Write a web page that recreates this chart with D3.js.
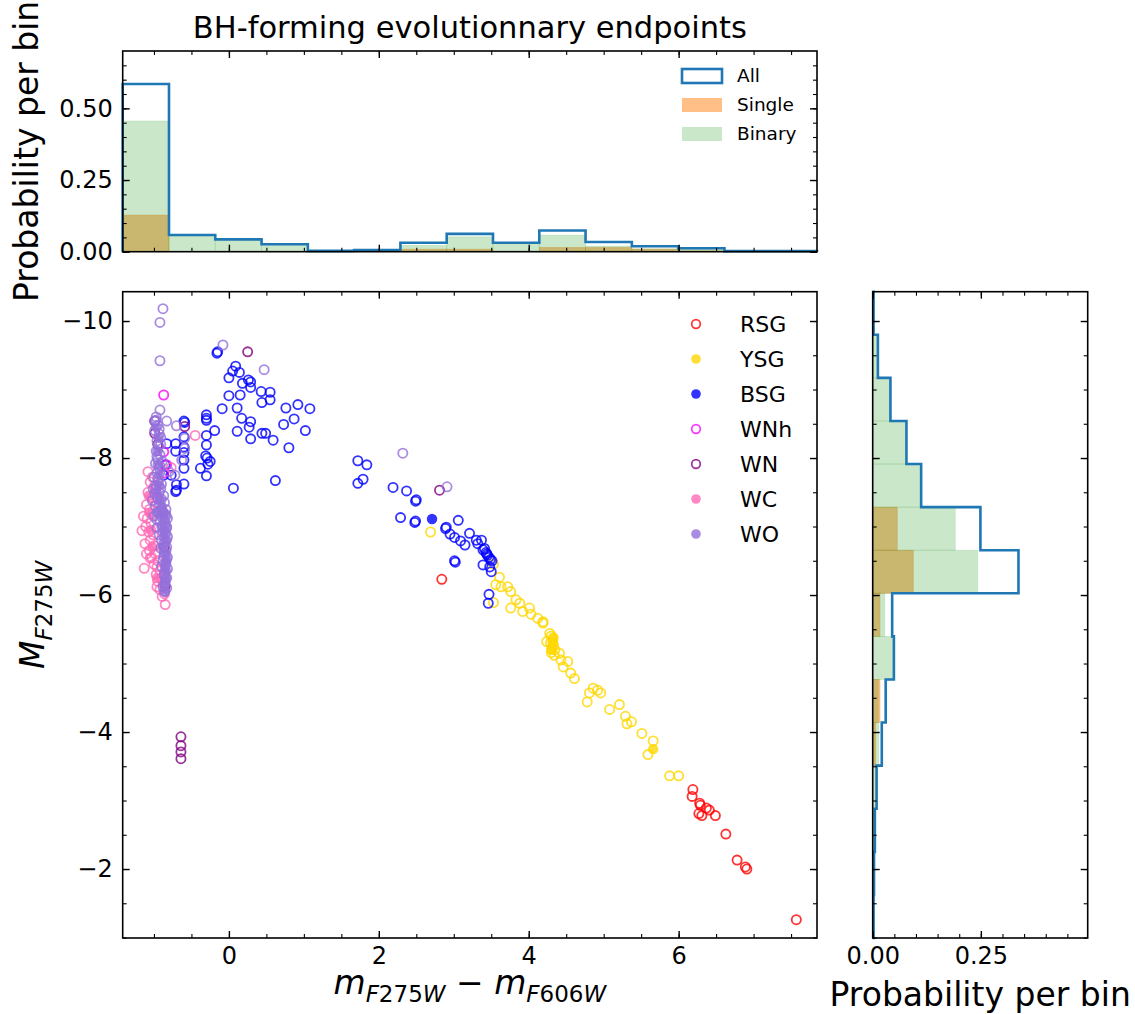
<!DOCTYPE html>
<html>
<head>
<meta charset="utf-8">
<script src="https://cdn.jsdelivr.net/npm/d3@7"></script>
<style>
  body { margin: 0; background: #fff; }
  text { font-family: "DejaVu Sans", sans-serif; }
</style>
</head>
<body>
<script>
// ---- data ----
// scatter points, [colour index, magnitude]
let rsgOpen = [[2.84,-6.23],[6.19,-3.16],[6.18,-3.06],[6.28,-2.96],[6.29,-2.93],[6.37,-2.89],[6.41,-2.86],
  [6.27,-2.81],[6.31,-2.78],[6.49,-2.78],[6.63,-2.51],[6.78,-2.13],[6.89,-2.03],[6.91,-2.00],[7.57,-1.26]]
let ysgOpen = [[2.69,-6.92],[3.53,-6.45],[3.61,-6.26],[3.56,-6.15],[3.63,-6.12],[3.72,-6.12],[3.76,-6.05],
  [3.53,-5.89],[3.83,-5.93],[3.88,-5.88],[3.76,-5.81],[3.92,-5.76],[4.01,-5.81],[4.03,-5.72],[4.12,-5.66],
  [4.19,-5.59],[4.19,-5.61],[4.28,-5.44],[4.30,-5.40],[4.32,-5.35],[4.29,-5.30],[4.33,-5.27],[4.31,-5.22],
  [4.35,-5.20],[4.30,-5.16],[4.34,-5.12],[4.24,-5.32],[4.41,-5.15],[4.43,-5.05],[4.52,-5.03],[4.46,-4.95],
  [4.56,-4.86],[4.61,-4.78],[4.86,-4.64],[4.81,-4.57],[4.92,-4.61],[4.96,-4.57],[4.78,-4.44],[5.08,-4.33],
  [5.21,-4.40],[5.29,-4.23],[5.37,-4.15],[5.31,-4.12],[5.51,-3.98],[5.66,-3.87],[5.59,-3.67],[5.88,-3.36],[6.00,-3.36]]
let ysgFilled = [[5.66,-3.75],[4.32,-5.30],[4.30,-5.20],[4.33,-5.38]]
let bsgOpen = [[-0.15,-9.55],[-0.16,-9.53],[0.09,-9.34],[0.05,-9.27],[0.14,-9.25],[0.00,-9.17],[0.18,-9.09],
  [0.26,-9.14],[0.29,-9.11],[0.29,-9.03],[0.43,-8.97],[0.55,-8.96],[0.55,-8.85],[0.44,-8.81],[0.00,-8.91],
  [0.15,-8.92],[-0.09,-8.72],[0.11,-8.73],[0.17,-8.58],[0.29,-8.53],[0.27,-8.45],[0.11,-8.39],[0.29,-8.28],
  [0.44,-8.36],[0.49,-8.36],[0.59,-8.26],[0.76,-8.73],[0.92,-8.78],[1.08,-8.72],[0.87,-8.57],[0.73,-8.49],
  [1.02,-8.40],[0.80,-8.15],[0.62,-7.67],[0.06,-7.56],
  [-0.30,-8.63],[-0.30,-8.58],[-0.30,-8.55],[-0.19,-8.40],[-0.30,-8.33],[-0.30,-8.19],[-0.31,-8.03],
  [-0.29,-8.00],[-0.25,-7.95],[-0.28,-7.91],[-0.38,-7.85],[-0.30,-7.74],
  [-0.60,-8.54],[-0.60,-8.31],[-0.60,-8.16],[-0.60,-7.97],[-0.60,-7.85],[-0.60,-7.62],
  [-0.83,-8.21],[-0.71,-8.21],[-0.71,-8.10],[-0.60,-8.08],[-0.85,-7.90],[-0.87,-7.75],[-0.77,-7.75],
  [-0.70,-7.61],[-0.70,-7.53],[-0.71,-7.51],[-0.59,-8.52],
  [1.72,-7.96],[1.84,-7.90],[1.72,-7.63],[1.79,-7.69],[2.19,-7.57],[2.37,-7.52],[2.49,-7.37],[2.50,-7.39],
  [2.29,-7.13],[2.48,-7.06],[2.49,-7.08],[3.06,-7.09],[2.89,-6.97],[2.90,-6.99],[2.95,-6.89],[3.01,-6.84],
  [3.09,-6.79],[3.15,-6.73],[3.21,-6.90],[3.30,-6.80],[3.37,-6.80],[3.32,-6.75],[3.39,-6.66],[3.43,-6.62],
  [3.45,-6.58],[3.47,-6.55],[3.49,-6.52],[3.51,-6.50],[3.39,-6.44],[3.48,-6.41],[3.50,-6.34],[3.01,-6.50],
  [3.02,-6.48],[3.47,-6.01],[3.46,-5.88],[3.44,-6.60],[3.41,-6.68]]
let bsgFilled = [[2.71,-7.11]]
let wnhOpen = [[-0.87,-8.92],[-0.87,-8.09],[-0.83,-7.90],[-0.87,-7.78],[-0.98,-7.55],[-0.95,-7.40]]
let wnOpen = [[0.25,-9.55],[2.81,-7.53],[-0.99,-8.54],[-0.99,-8.36],[-0.85,-6.13],[-0.64,-3.93],[-0.64,-3.80],
  [-0.64,-3.71],[-0.64,-3.61],[-0.95,-8.20],[-0.88,-7.20],[-0.86,-6.70],[-0.59,-8.46]]
let wcOpen = [[-0.45,-8.33],[-0.77,-7.86],[-1.16,-6.94],[-1.13,-6.39],[-0.85,-5.86],[-1.05,-6.54],[-0.96,-6.41],
  [-1.05,-7.65],[-1.08,-7.50],[-1.03,-7.42],[-1.10,-7.32],[-1.06,-7.25],[-1.02,-7.18],[-1.09,-7.12],
  [-1.04,-7.05],[-1.11,-7.00],[-1.07,-6.92],[-1.01,-6.88],[-1.05,-6.80],[-1.12,-6.75],[-1.00,-6.72],
  [-1.06,-6.65],[-0.98,-6.60],[-1.03,-6.55],[-0.95,-6.50],[-1.00,-6.45],[-0.92,-6.35],[-0.97,-6.30],
  [-0.90,-6.25],[-0.95,-6.20],[-0.88,-6.15],[-0.92,-6.08],[-0.86,-6.02],[-0.89,-5.98],[-0.96,-6.12],
  [-1.08,-7.80],[-1.02,-7.72],[-0.99,-7.60],[-1.10,-6.60],[-1.14,-7.15],[-0.97,-7.35]]
let wcFilled = [[-1.06,-7.20],[-1.04,-6.95],[-1.07,-7.45],[-1.02,-6.70],[-0.96,-6.25]]
let woOpen = [[-0.88,-10.18],[-0.92,-9.98],[-0.92,-9.42],[-0.08,-9.65],[0.47,-9.29],[2.32,-8.07],[2.91,-7.58],
  [-0.92,-8.70],[-0.83,-8.54],[-0.70,-8.47],[-0.59,-8.29],[-0.59,-8.14],[-0.63,-7.97],[-0.72,-7.75],[-0.80,-7.80],
  [-0.97,-8.55],[-0.95,-8.48],[-0.99,-8.40],[-0.93,-8.35],[-0.96,-8.25],[-0.94,-8.18],[-0.97,-8.10],
  [-0.92,-8.05],[-0.95,-7.98],[-0.98,-7.92],[-0.93,-7.85],[-0.96,-7.78],[-1.00,-7.72],[-0.94,-7.66],
  [-0.97,-7.60],[-1.01,-7.55],[-0.93,-7.50],[-0.96,-7.44],[-1.02,-7.38],[-0.90,-7.40],[-0.86,-7.35],
  [-0.98,-7.30],[-0.84,-7.25],[-0.94,-7.22],[-0.88,-7.18],[-0.82,-7.12],[-1.00,-7.15],[-0.85,-7.05],
  [-0.92,-7.08],[-0.83,-6.98],[-0.96,-6.98],[-0.88,-6.92],[-0.82,-6.85],[-0.85,-6.78],[-0.90,-6.80],
  [-0.83,-6.70],[-0.86,-6.62],[-0.82,-6.55],[-0.88,-6.50],[-0.84,-6.45],[-0.82,-6.38],[-0.86,-6.32],
  [-0.83,-6.25],[-0.85,-6.18],[-0.83,-6.10],[-0.86,-6.05],[-0.84,-6.65],[-0.84,-6.90],[-0.84,-7.15],
  [-0.87,-7.45],[-0.90,-7.62],[-0.89,-7.95],[-0.91,-8.20],[-0.99,-8.54],[-0.97,-8.60],
  [-0.93,-8.42],[-0.91,-8.30],[-0.96,-8.02],[-0.92,-7.88],[-0.95,-7.70],[-0.91,-7.55],[-0.99,-7.48],
  [-0.93,-7.33],[-0.90,-7.25],[-0.96,-7.10],[-0.89,-7.02],[-0.93,-6.88],[-0.87,-6.75],[-0.91,-6.68],
  [-0.87,-6.56],[-0.90,-6.42],[-0.86,-6.28],[-0.88,-6.12]]
let woFilled = [[-0.84,-6.60],[-0.85,-6.90],[-0.86,-7.10],[-0.84,-6.35],[-0.85,-6.20],[-0.90,-7.30],
  [-0.93,-7.60],[-0.95,-7.90],[-0.83,-6.80],[-0.84,-6.48],[-0.94,-8.30],[-0.95,-8.10],[-0.93,-7.75],
  [-0.97,-7.52],[-0.92,-7.40],[-0.88,-7.22],[-0.90,-7.00],[-0.86,-6.95],[-0.88,-6.70],[-0.85,-6.40],
  [-0.86,-6.15],[-0.83,-7.00],[-0.83,-6.52],[-0.84,-6.25],[-0.96,-7.20],[-0.91,-7.15],[-0.87,-6.85],
  [-0.85,-6.05],[-0.84,-7.18],[-0.97,-8.45]]

// histograms, 15 equal bins over each axis range
let allTop    = [0.585,0.058,0.043,0.026,0.003,0.006,0.031,0.062,0.031,0.074,0.034,0.019,0.012,0.002,0.002]
let singleTop = [0.128,0,0,0,0,0,0.009,0.009,0,0.015,0.015,0.009,0.003,0,0]
let binaryTop = [0.456,0.056,0.043,0.025,0.003,0.006,0.022,0.052,0.030,0.058,0.020,0.010,0.009,0.002,0.002]
// right histogram, bins ordered from the top (brightest) down
let allRight    = [0.002,0.012,0.041,0.078,0.112,0.249,0.337,0.045,0.049,0.030,0.021,0.009,0.005,0.003,0.002]
let singleRight = [0,0,0,0,0,0.057,0.094,0.017,0,0.017,0.007,0,0,0,0]
let binaryRight = [0.002,0.012,0.041,0.078,0.112,0.191,0.243,0.028,0.049,0.013,0.014,0.009,0.005,0.003,0.002]

let classes = [
  { name: 'RSG', color: '#ff0000', open: rsgOpen, filled: [], legendFilled: false },
  { name: 'YSG', color: '#ffd700', open: ysgOpen, filled: ysgFilled, legendFilled: true },
  { name: 'BSG', color: '#0000ff', open: bsgOpen, filled: bsgFilled, legendFilled: true },
  { name: 'WNh', color: '#ff00ff', open: wnhOpen, filled: [], legendFilled: false },
  { name: 'WN',  color: '#800080', open: wnOpen, filled: [], legendFilled: false },
  { name: 'WC',  color: '#ff69b4', open: wcOpen, filled: wcFilled, legendFilled: true },
  { name: 'WO',  color: '#9370db', open: woOpen, filled: woFilled, legendFilled: true }
]

// ---- layout ----
let W = 1135, H = 1014
let main = { x0: 122.7, x1: 817, y0: 291.7, y1: 938 }
let topP = { y0: 51, y1: 251.7 }
let right = { x0: 872.7, x1: 1087.7 }

let xMain = d3.scaleLinear().domain([-1.417, 7.846]).range([main.x0, main.x1])
let yMain = d3.scaleLinear().domain([-10.428, -0.993]).range([main.y0, main.y1])
let yTop = d3.scaleLinear().domain([0, 0.70]).range([topP.y1, topP.y0])
let xRight = d3.scaleLinear().domain([0, 0.497]).range([right.x0, right.x1])

let svg = d3.select("body").append("svg")
    .attr("width", W)
    .attr("height", H)

let blue = '#1f77b4'
let orange = '#ff7f0e'
let green = '#2ca02c'
let nBins = 15

// draws inward ticks on one side of a panel
function ticks(side, scale, pos, values, size, fmt) {
    let ax = side == 'bottom' ? d3.axisBottom(scale) : side == 'top' ? d3.axisTop(scale)
        : side == 'left' ? d3.axisLeft(scale) : d3.axisRight(scale)
    ax.tickValues(values).tickSize(-size).tickPadding(side == 'left' ? 10 : 9)
      .tickFormat(fmt ? fmt : () => '')
    let tr = (side == 'bottom' || side == 'top') ? "translate(0," + pos + ")" : "translate(" + pos + ",0)"
    let g = svg.append("g").attr("transform", tr).call(ax)
    g.select(".domain").remove()
    g.selectAll("line").attr("stroke", "#000").attr("stroke-width", size > 5 ? 1.4 : 1.1)
    g.selectAll("text").attr("font-size", 24).attr("fill", "#000")
        .attr("font-family", "DejaVu Sans")
    return g
}

function frame(x0, y0, x1, y1) {
    svg.append("rect").attr("x", x0).attr("y", y0)
        .attr("width", x1 - x0).attr("height", y1 - y0)
        .attr("fill", "none").attr("stroke", "#000").attr("stroke-width", 1.6)
}

function rangeStep(a, b, s) {
    return d3.range(Math.round(a / s), Math.round(b / s) + 1).map(k => +(k * s).toFixed(4))
}

// ---- top histogram ----
let xd = xMain.domain()
let xEdges = d3.range(nBins + 1).map(i => xd[0] + i * (xd[1] - xd[0]) / nBins)

function hBars(vals, color, op) {
    svg.append("g").selectAll("rect")
        .data(vals)
        .enter().append("rect")
        .attr("x", (d, i) => xMain(xEdges[i]))
        .attr("width", (d, i) => xMain(xEdges[i + 1]) - xMain(xEdges[i]))
        .attr("y", d => yTop(d))
        .attr("height", d => yTop(0) - yTop(d))
        .attr("fill", color).attr("fill-opacity", op)
        .attr("stroke", color).attr("stroke-opacity", op * 0.6).attr("stroke-width", 0.8)
}
hBars(singleTop, orange, 0.5)
hBars(binaryTop, green, 0.25)

let topStep = [[xEdges[0], 0]]
allTop.forEach(function (v, i) { topStep.push([xEdges[i], v]); topStep.push([xEdges[i + 1], v]) })
topStep.push([xEdges[nBins], 0])
svg.append("path")
    .datum(topStep)
    .attr("d", d3.line().x(d => xMain(d[0])).y(d => yTop(d[1])))
    .attr("fill", "none").attr("stroke", blue).attr("stroke-width", 2.6)

ticks('bottom', xMain, topP.y1, rangeStep(-1, 7.5, 0.5), 4)
ticks('top', xMain, topP.y0, rangeStep(-1, 7.5, 0.5), 4)
ticks('bottom', xMain, topP.y1, [0, 2, 4, 6], 7)
ticks('top', xMain, topP.y0, [0, 2, 4, 6], 7)
ticks('left', yTop, main.x0, rangeStep(0, 0.65, 0.05), 4)
ticks('right', yTop, main.x1, rangeStep(0, 0.65, 0.05), 4)
ticks('left', yTop, main.x0, [0, 0.25, 0.5], 7, d3.format(".2f"))
ticks('right', yTop, main.x1, [0, 0.25, 0.5], 7)
frame(main.x0, topP.y0, main.x1, topP.y1)

// top legend
let topLegend = [
    { label: 'All', y: 76 },
    { label: 'Single', y: 105 },
    { label: 'Binary', y: 134 }
]
topLegend.forEach(function (d, i) {
    let r = svg.append("rect").attr("x", 682).attr("y", d.y - 7).attr("width", 40).attr("height", 14)
    if (i == 0) r.attr("fill", "none").attr("stroke", blue).attr("stroke-width", 2.6)
    else r.attr("fill", i == 1 ? orange : green).attr("fill-opacity", i == 1 ? 0.5 : 0.25)
    svg.append("text").attr("x", 737).attr("y", d.y).attr("dy", "0.35em")
        .attr("font-size", 18.5).text(d.label)
})

// ---- right histogram ----
let yd = yMain.domain()
let yEdges = d3.range(nBins + 1).map(i => yd[0] + i * (yd[1] - yd[0]) / nBins)

function vBars(vals, color, op) {
    svg.append("g").selectAll("rect")
        .data(vals)
        .enter().append("rect")
        .attr("x", xRight(0))
        .attr("width", d => xRight(d) - xRight(0))
        .attr("y", (d, i) => yMain(yEdges[i]))
        .attr("height", (d, i) => yMain(yEdges[i + 1]) - yMain(yEdges[i]))
        .attr("fill", color).attr("fill-opacity", op)
        .attr("stroke", color).attr("stroke-opacity", op * 0.6).attr("stroke-width", 0.8)
}
vBars(singleRight, orange, 0.5)
vBars(binaryRight, green, 0.25)

let rightStep = [[0, yEdges[0]]]
allRight.forEach(function (v, i) { rightStep.push([v, yEdges[i]]); rightStep.push([v, yEdges[i + 1]]) })
rightStep.push([0, yEdges[nBins]])
svg.append("path")
    .datum(rightStep)
    .attr("d", d3.line().x(d => xRight(d[0])).y(d => yMain(d[1])))
    .attr("fill", "none").attr("stroke", blue).attr("stroke-width", 2.6)

ticks('bottom', xRight, main.y1, rangeStep(0, 0.45, 0.05), 4)
ticks('top', xRight, main.y0, rangeStep(0, 0.45, 0.05), 4)
ticks('bottom', xRight, main.y1, [0, 0.25], 7, d3.format(".2f"))
ticks('top', xRight, main.y0, [0, 0.25], 7)
ticks('left', yMain, right.x0, rangeStep(-10, -1, 0.5), 4)
ticks('right', yMain, right.x1, rangeStep(-10, -1, 0.5), 4)
ticks('left', yMain, right.x0, [-10, -8, -6, -4, -2], 7)
ticks('right', yMain, right.x1, [-10, -8, -6, -4, -2], 7)
frame(right.x0, main.y0, right.x1, main.y1)

// ---- main scatter ----
svg.append("clipPath").attr("id", "clipMain")
    .append("rect").attr("x", main.x0).attr("y", main.y0)
    .attr("width", main.x1 - main.x0).attr("height", main.y1 - main.y0)
let pts = svg.append("g").attr("clip-path", "url(#clipMain)")
let R = 4.6

classes.forEach(function (c) {
    pts.append("g").selectAll("circle")
        .data(c.open)
        .enter().append("circle")
        .attr("cx", d => xMain(d[0]))
        .attr("cy", d => yMain(d[1]))
        .attr("r", R)
        .attr("fill", "none")
        .attr("stroke", c.color).attr("stroke-opacity", 0.8).attr("stroke-width", 1.8)
    pts.append("g").selectAll("circle")
        .data(c.filled)
        .enter().append("circle")
        .attr("cx", d => xMain(d[0]))
        .attr("cy", d => yMain(d[1]))
        .attr("r", R + 0.6)
        .attr("fill", c.color).attr("fill-opacity", 0.8)
})

ticks('bottom', xMain, main.y1, rangeStep(-1, 7.5, 0.5), 4)
ticks('top', xMain, main.y0, rangeStep(-1, 7.5, 0.5), 4)
ticks('bottom', xMain, main.y1, [0, 2, 4, 6], 7, d3.format("d"))
ticks('top', xMain, main.y0, [0, 2, 4, 6], 7)
ticks('left', yMain, main.x0, rangeStep(-10, -1, 0.5), 4)
ticks('right', yMain, main.x1, rangeStep(-10, -1, 0.5), 4)
ticks('left', yMain, main.x0, [-10, -8, -6, -4, -2], 7, d3.format("d"))
ticks('right', yMain, main.x1, [-10, -8, -6, -4, -2], 7)
frame(main.x0, main.y0, main.x1, main.y1)

// scatter legend
classes.forEach(function (c, i) {
    let y = 324 + i * 35
    let m = svg.append("circle").attr("cx", 696).attr("cy", y).attr("r", 4.3)
    if (c.legendFilled) m.attr("fill", c.color).attr("fill-opacity", 0.8).attr("r", 4.8)
    else m.attr("fill", "none").attr("stroke", c.color).attr("stroke-opacity", 0.8).attr("stroke-width", 1.7)
    svg.append("text").attr("x", 740).attr("y", y).attr("dy", "0.36em")
        .attr("font-size", 22).text(c.name)
})

// ---- titles and labels ----
svg.append("text").attr("x", (main.x0 + main.x1) / 2).attr("y", 38)
    .attr("text-anchor", "middle").attr("font-size", 30.5)
    .text("BH-forming evolutionnary endpoints")

svg.append("text")
    .attr("transform", "translate(38," + (topP.y0 + topP.y1) / 2 + ") rotate(-90)")
    .attr("text-anchor", "middle").attr("font-size", 33)
    .text("Probability per bin")

svg.append("text").attr("x", (right.x0 + right.x1) / 2 + 0).attr("y", 1006)
    .attr("text-anchor", "middle").attr("font-size", 33)
    .text("Probability per bin")

// mathtext-like labels
function mathSub(t, base, sub) {
    t.append("tspan").attr("font-style", "italic").text(base)
    t.append("tspan").attr("font-size", 23).attr("dy", 8).attr("font-style", "italic").text("F")
    t.append("tspan").attr("font-size", 23).text(sub)
    t.append("tspan").attr("font-size", 23).attr("font-style", "italic").text("W")
}

let yl = svg.append("text")
    .attr("transform", "translate(44," + (main.y0 + main.y1) / 2 + ") rotate(-90)")
    .attr("text-anchor", "middle").attr("font-size", 33)
mathSub(yl, "M", "275")

let xl = svg.append("text").attr("x", (main.x0 + main.x1) / 2).attr("y", 994)
    .attr("text-anchor", "middle").attr("font-size", 33)
mathSub(xl, "m", "275")
xl.append("tspan").attr("dy", -8).text(" \u2212 ")
mathSub(xl, "m", "606")
</script>
</body>
</html>
